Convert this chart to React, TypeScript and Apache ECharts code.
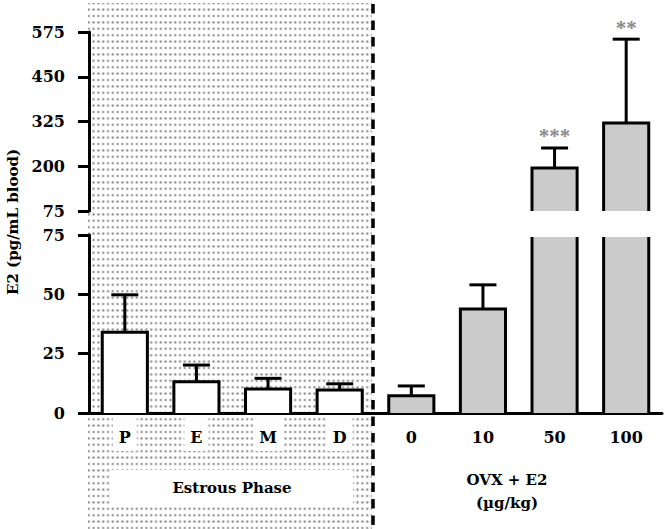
import React, { useEffect, useRef } from 'react';
import * as echarts from 'echarts';

// ---- data ----
const categories = ['P', 'E', 'M', 'D', '0', '10', '50', '100'];
const meanE2 = [34, 13.2, 10.1, 9.7, 7.3, 43.8, 195, 321];
const semE2 = [15.8, 7, 4.5, 2.6, 4.1, 10.2, 56, 234];
const significance = ['', '', '', '', '', '', '***', '**'];
const lowerAxis = [0, 75, 25]; // min, max, interval
const upperAxis = [75, 575, 125];
const breakValue = 75;
const groupTitles = ['Estrous Phase', 'OVX + E2', '(µg/kg)'];
const yTitle = 'E2 (pg/mL blood)';

const SERIF = '"DejaVu Serif", "Liberation Serif", serif';
const barFill = (i: number) => (i < 4 ? '#ffffff' : '#cbcbcb');

const dotSvg =
  "<svg xmlns='http://www.w3.org/2000/svg' width='4.8' height='6.4'><rect x='1.4' y='2.2' width='2' height='2' fill='#7c7c7c'/></svg>";
const dotUrl = 'data:image/svg+xml;charset=utf-8,' + encodeURIComponent(dotSvg);

const blackLine = (x1: number, y1: number, x2: number, y2: number) => ({
  type: 'line',
  shape: { x1, y1, x2, y2 },
  style: { stroke: '#000', lineWidth: 3 },
});

const renderLower = (_p: any, api: any) => {
  const i = api.value(0);
  const v = api.value(1);
  const e = api.value(2);
  const base = api.coord([i, 0]);
  const cx = base[0];
  const y0 = base[1];
  const half = api.size([1, 0])[0] * 0.315;
  const broken = v > breakValue;
  const yt = broken ? api.coord([i, breakValue])[1] + 2 : api.coord([i, v])[1];
  const children: any[] = [
    { type: 'rect', shape: { x: cx - half, y: yt, width: 2 * half, height: y0 - yt }, style: { fill: barFill(i) } },
  ];
  if (broken) {
    children.push(blackLine(cx - half, y0, cx - half, yt), blackLine(cx + half, y0, cx + half, yt));
  } else {
    const ye = api.coord([i, v + e])[1];
    children.push(
      blackLine(cx, yt, cx, ye),
      blackLine(cx - 13.5, ye, cx + 13.5, ye),
      {
        type: 'polyline',
        shape: { points: [[cx - half, y0], [cx - half, yt], [cx + half, yt], [cx + half, y0]] },
        style: { fill: 'none', stroke: '#000', lineWidth: 3 },
      }
    );
  }
  return { type: 'group', children };
};

const renderUpper = (_p: any, api: any) => {
  const i = api.value(0);
  const v = api.value(1);
  const e = api.value(2);
  if (!(v > breakValue)) return { type: 'group', children: [] };
  const top = api.coord([i, v]);
  const cx = top[0];
  const yt = top[1];
  const yb = api.coord([i, breakValue])[1];
  const ye = api.coord([i, v + e])[1];
  const half = api.size([1, 0])[0] * 0.315;
  const children: any[] = [
    { type: 'rect', shape: { x: cx - half, y: yt, width: 2 * half, height: yb - yt }, style: { fill: barFill(i) } },
    blackLine(cx, yt, cx, ye),
    blackLine(cx - 13.5, ye, cx + 13.5, ye),
    {
      type: 'polyline',
      shape: { points: [[cx - half, yb], [cx - half, yt], [cx + half, yt], [cx + half, yb]] },
      style: { fill: 'none', stroke: '#000', lineWidth: 3 },
    },
  ];
  const sig = significance[i];
  if (sig) {
    children.push({
      type: 'text',
      x: cx,
      y: ye - 1,
      style: {
        text: sig,
        fill: '#8a8a8a',
        font: 'bold 21px "Liberation Serif", serif',
        align: 'center',
        verticalAlign: 'bottom',
        textAlign: 'center',
        textVerticalAlign: 'bottom',
      },
    });
  }
  return { type: 'group', children };
};

const yAxisCommon = {
  type: 'value',
  splitLine: { show: false },
  axisLine: { show: true, lineStyle: { color: '#000', width: 3 } },
  axisTick: { show: true, length: 11, lineStyle: { color: '#000', width: 3 } },
  axisLabel: { margin: 24, color: '#000', fontFamily: SERIF, fontWeight: 'bold', fontSize: 16 },
};

const textStyle = (text: string, size: number) => ({
  text,
  fill: '#000',
  font: `bold ${size}px ${SERIF}`,
  align: 'center',
  verticalAlign: 'middle',
  textAlign: 'center',
  textVerticalAlign: 'middle',
});

export default function App() {
  const ref = useRef<HTMLDivElement>(null);
  useEffect(() => {
    if (!ref.current) return;
    const chart = echarts.init(ref.current, undefined, { renderer: 'svg' });
    const data = categories.map((_, i) => [i, meanE2[i], semE2[i]]);
    chart.setOption({
      animation: false,
      backgroundColor: '#fff',
      grid: [
        { left: 89, right: 5, top: 32, height: 179 },
        { left: 89, right: 5, top: 235, height: 178 },
      ],
      xAxis: [
        { type: 'category', gridIndex: 0, data: categories, show: false },
        {
          type: 'category',
          gridIndex: 1,
          data: categories,
          axisLine: { show: true, lineStyle: { color: '#000', width: 3 } },
          axisTick: { show: false },
          axisLabel: {
            margin: 5,
            color: '#000',
            fontFamily: SERIF,
            fontWeight: 'bold',
            fontSize: 16,
            backgroundColor: '#fff',
            padding: [11, 6, 6, 6],
          },
        },
      ],
      yAxis: [
        { ...yAxisCommon, gridIndex: 0, min: upperAxis[0], max: upperAxis[1], interval: upperAxis[2] },
        { ...yAxisCommon, gridIndex: 1, min: lowerAxis[0], max: lowerAxis[1], interval: lowerAxis[2] },
      ],
      series: [
        { type: 'custom', xAxisIndex: 1, yAxisIndex: 1, data, renderItem: renderLower, encode: { x: 0, y: 1 }, z: 3 },
        { type: 'custom', xAxisIndex: 0, yAxisIndex: 0, data, renderItem: renderUpper, encode: { x: 0, y: 1 }, z: 3 },
      ],
      graphic: [
        {
          type: 'rect',
          z: -10,
          shape: { x: 88, y: 3, width: 284, height: 526 },
          style: { fill: { image: dotUrl, repeat: 'repeat', imageWidth: 4.8, imageHeight: 6.4 } as any },
        },
        { type: 'rect', z: -5, shape: { x: 110, y: 470, width: 243, height: 35 }, style: { fill: '#fff' } },
        { type: 'text', z: 5, x: 232, y: 488, style: textStyle(groupTitles[0], 15) },
        { type: 'text', z: 5, x: 507, y: 480, style: textStyle(groupTitles[1], 15) },
        { type: 'text', z: 5, x: 507, y: 503, style: textStyle(groupTitles[2], 15) },
        { type: 'text', z: 5, x: 13, y: 222, rotation: Math.PI / 2, style: textStyle(yTitle, 15) },
        {
          type: 'line',
          z: 10,
          shape: { x1: 373, y1: 4, x2: 373, y2: 529 },
          style: { stroke: '#000', lineWidth: 3.5, lineDash: [9.5, 7] },
        },
      ],
    });
    return () => chart.dispose();
  }, []);
  return <div ref={ref} style={{ position: 'fixed', left: 0, top: 0, width: 667, height: 529 }} />;
}
